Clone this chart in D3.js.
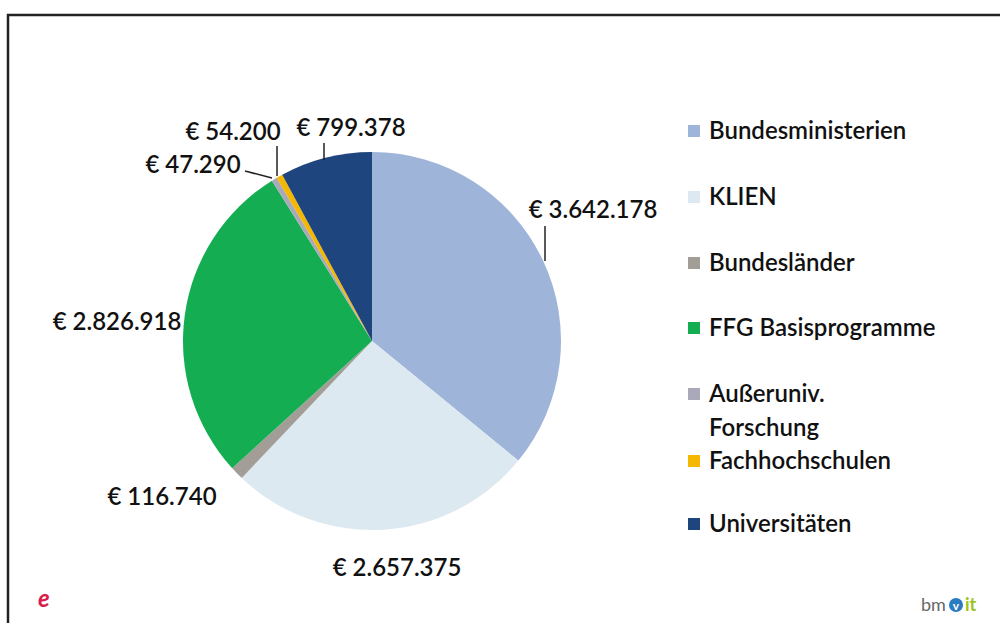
<!DOCTYPE html>
<html>
<head>
<meta charset="utf-8">
<script src="https://cdn.jsdelivr.net/npm/d3@7"></script>
<style>
  body { margin: 0; background: #fff; }
  text { font-family: Lato, "Open Sans", sans-serif; fill: #111; }
</style>
</head>
<body>
<div id="chart"></div>
<script>
// data
var categories = ["Bundesministerien", "KLIEN", "Bundesländer", "FFG Basisprogramme",
                  "Außeruniv. Forschung", "Fachhochschulen", "Universitäten"];
var values = [3642178, 2657375, 116740, 2826918, 47290, 54200, 799378];
var valueLabels = ["€ 3.642.178", "€ 2.657.375", "€ 116.740", "€ 2.826.918",
                   "€ 47.290", "€ 54.200", "€ 799.378"];
var colors = ["#9fb4d9", "#dce9f1", "#a39d98", "#14ad52", "#a9a9ba", "#f5b800", "#1f457e"];

var svgWidth = 1000;
var svgHeight = 623;

var svg = d3.select("#chart")
    .append("svg")
    .attr("width", svgWidth)
    .attr("height", svgHeight);

// frame (top + left border)
svg.append("path")
    .attr("d", "M8,623 V15 H1000")
    .attr("fill", "none")
    .attr("stroke", "#222")
    .attr("stroke-width", 2.5);

var cx = 372, cy = 341, radius = 189;

var data = categories.map(function(c, i) {
    return { name: c, value: values[i], label: valueLabels[i], color: colors[i] };
});

var pie = d3.pie().sort(null).value(d => d.value);
var arc = d3.arc().innerRadius(0).outerRadius(radius);
var arcs = pie(data);

var pieGroup = svg.append("g")
    .attr("transform", `translate(${cx}, ${cy})`);

pieGroup.selectAll("path")
    .data(arcs)
    .enter()
    .append("path")
    .attr("d", arc)
    .attr("fill", d => d.data.color);

// label positions (relative to pie centre) and leader lines
var labelPos = [
    { x: 221, y: -131, line: [[173, -115], [173, -80]] },
    { x: 25, y: 227, line: null },
    { x: -210, y: 156, line: null },
    { x: -255, y: -19, line: null },
    { x: -179, y: -176, line: [[-127, -170], [-100, -163]] },
    { x: -139, y: -209, line: [[-95, -195], [-95, -165]] },
    { x: -21, y: -213, line: [[-48, -198], [-48, -181]] }
];

var labels = svg.append("g")
    .attr("transform", `translate(${cx}, ${cy})`);

labels.selectAll("text")
    .data(arcs)
    .enter()
    .append("text")
    .attr("x", (d, i) => labelPos[i].x)
    .attr("y", (d, i) => labelPos[i].y)
    .attr("text-anchor", "middle")
    .attr("dy", "0.35em")
    .style("font-size", "24px")
    .style("font-weight", "600")
    .text(d => d.data.label);

labels.selectAll("polyline")
    .data(labelPos.filter(p => p.line))
    .enter()
    .append("polyline")
    .attr("points", p => p.line.map(q => q.join(",")).join(" "))
    .attr("fill", "none")
    .attr("stroke", "#222")
    .attr("stroke-width", 1.5);

// legend
var legendRows = [131, 197, 263, 328, 394, 461, 524];
var legend = svg.append("g");

var items = legend.selectAll("g")
    .data(data)
    .enter()
    .append("g")
    .attr("transform", (d, i) => `translate(688, ${legendRows[i]})`);

items.append("rect")
    .attr("x", 0)
    .attr("y", -6)
    .attr("width", 12)
    .attr("height", 12)
    .attr("fill", d => d.color);

items.append("text")
    .attr("x", 21)
    .style("font-size", "24px")
    .style("font-weight", "600")
    .each(function(d) {
        var parts = d.name === "Außeruniv. Forschung" ? ["Außeruniv.", "Forschung"] : [d.name];
        var t = d3.select(this);
        parts.forEach(function(p, k) {
            t.append("tspan").attr("x", 21).attr("dy", k === 0 ? "0.35em" : "1.4em").text(p);
        });
    });

// small logos at the bottom
svg.append("text")
    .attr("x", 38)
    .attr("y", 607)
    .style("font-size", "24px")
    .style("font-style", "italic")
    .style("font-weight", "bold")
    .style("fill", "#d81b4a")
    .text("e");

var logo = svg.append("g").attr("transform", "translate(921, 611)");
logo.append("text")
    .style("font-size", "18px")
    .style("fill", "#666")
    .text("bm");
logo.append("circle")
    .attr("cx", 35).attr("cy", -6).attr("r", 7)
    .attr("fill", "#2a7bc0");
logo.append("text")
    .attr("x", 35).attr("y", -1)
    .attr("text-anchor", "middle")
    .style("font-size", "12px")
    .style("font-weight", "bold")
    .style("fill", "#fff")
    .text("v");
logo.append("text")
    .attr("x", 44)
    .style("font-size", "18px")
    .style("font-weight", "bold")
    .style("fill", "#9cc31a")
    .text("it");
</script>
</body>
</html>
